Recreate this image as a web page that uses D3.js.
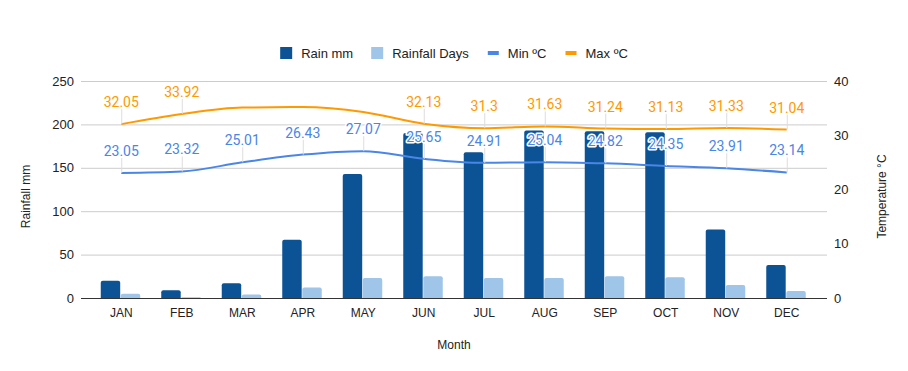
<!DOCTYPE html>
<html>
<head>
<meta charset="utf-8">
<script src="https://cdn.jsdelivr.net/npm/d3@7/dist/d3.min.js"></script>
<style>
  html, body { margin: 0; padding: 0; background: #fff; }
  svg { display: block; font-family: "Liberation Sans", Arial, sans-serif; }
</style>
</head>
<body>
<svg id="chart" width="908" height="371"></svg>
<script>
// ---- data ----
const months = ["JAN", "FEB", "MAR", "APR", "MAY", "JUN", "JUL", "AUG", "SEP", "OCT", "NOV", "DEC"];
const rainMm = [20, 9, 17, 67, 143, 190, 168, 193, 192, 191, 79, 38];
const rainDays = [5, 1, 4, 12, 23, 25, 23, 23, 25, 24, 15, 8];
const minTemp = [23.05, 23.32, 25.01, 26.43, 27.07, 25.65, 24.91, 25.04, 24.82, 24.35, 23.91, 23.14];
const maxTemp = [32.05, 33.92, 35.1, 35.2, 34.3, 32.13, 31.3, 31.63, 31.24, 31.13, 31.33, 31.04];
// max labels that the original chart leaves out (they would run into the top edge)
const hiddenMaxLabels = ["MAR", "APR", "MAY"];
const leftTicks = [0, 50, 100, 150, 200, 250];
const rightTicks = [0, 10, 20, 30, 40];

const colors = { rain: "#0b5394", days: "#9fc5e8", min: "#4a86e8", max: "#ff9900" };

const svg = d3.select("#chart");
const plot = { left: 81, right: 827, top: 81, bottom: 298 };

const x = d3.scaleBand().domain(months).range([91, 817]);
const xInner = d3.scaleBand().domain(["rain", "days"]).range([-20.5, 19]).paddingInner(0.03);
const yL = d3.scaleLinear().domain([0, 250]).range([plot.bottom, plot.top]);
const yR = d3.scaleLinear().domain([0, 40]).range([plot.bottom, plot.top]);
const cx = m => x(m) + x.bandwidth() / 2;

// gridlines
svg.append("g")
  .attr("transform", `translate(${plot.left},0)`)
  .call(d3.axisLeft(yL).tickValues(leftTicks).tickSize(-(plot.right - plot.left)).tickFormat(""))
  .call(g => g.select(".domain").remove())
  .call(g => g.selectAll("line").attr("stroke", "#cccccc"));

// left tick labels
svg.append("g")
  .attr("transform", `translate(${plot.left},0)`)
  .call(d3.axisLeft(yL).tickValues(leftTicks).tickSize(0).tickPadding(7))
  .call(g => g.select(".domain").remove())
  .call(g => g.selectAll("text").attr("font-size", 13).attr("fill", "#222").attr("font-family", "Liberation Sans, Arial, sans-serif"));

// right tick labels
svg.append("g")
  .attr("transform", `translate(${plot.right},0)`)
  .call(d3.axisRight(yR).tickValues(rightTicks).tickSize(0).tickPadding(7))
  .call(g => g.select(".domain").remove())
  .call(g => g.selectAll("text").attr("font-size", 13).attr("fill", "#222").attr("font-family", "Liberation Sans, Arial, sans-serif"));

// bars with rounded tops
function barPath(x0, w, yTop, yBot) {
  const r = Math.min(2, (yBot - yTop), w / 2);
  return `M${x0},${yBot}V${yTop + r}Q${x0},${yTop} ${x0 + r},${yTop}H${x0 + w - r}Q${x0 + w},${yTop} ${x0 + w},${yTop + r}V${yBot}Z`;
}
const groups = svg.append("g").selectAll("g").data(months).join("g")
  .attr("transform", m => `translate(${cx(m)},0)`);
groups.append("path")
  .attr("fill", colors.rain)
  .attr("d", (m, i) => barPath(xInner("rain"), xInner.bandwidth(), yL(rainMm[i]), yL(0)));
groups.append("path")
  .attr("fill", colors.days)
  .attr("d", (m, i) => barPath(xInner("days"), xInner.bandwidth(), yL(rainDays[i]), yL(0)));

// baseline
svg.append("line")
  .attr("x1", plot.left).attr("x2", plot.right)
  .attr("y1", plot.bottom + 0.5).attr("y2", plot.bottom + 0.5)
  .attr("stroke", "#333").attr("stroke-width", 1);

// x axis labels
svg.append("g")
  .attr("transform", `translate(0,${plot.bottom})`)
  .call(d3.axisBottom(x).tickSize(0).tickPadding(10))
  .call(g => g.select(".domain").remove())
  .call(g => g.selectAll("text").attr("font-size", 12).attr("fill", "#222").attr("font-family", "Liberation Sans, Arial, sans-serif"));

// temperature lines
const line = d3.line().x((d, i) => cx(months[i])).y(d => yR(d)).curve(d3.curveMonotoneX);
svg.append("path").datum(minTemp).attr("fill", "none").attr("stroke", colors.min).attr("stroke-width", 2).attr("d", line);
svg.append("path").datum(maxTemp).attr("fill", "none").attr("stroke", colors.max).attr("stroke-width", 2).attr("d", line);

// annotations with stems
function annotate(values, color, hidden) {
  const g = svg.append("g");
  values.forEach((v, i) => {
    if (hidden.includes(months[i])) return;
    const px = cx(months[i]);
    const py = yR(v);
    g.append("line")
      .attr("x1", px + 0.5).attr("x2", px + 0.5)
      .attr("y1", py).attr("y2", py - 15)
      .attr("stroke", "#dddddd").attr("stroke-width", 1);
    g.append("text")
      .attr("x", px).attr("y", py - 17)
      .attr("text-anchor", "middle")
      .attr("font-family", "Roboto, sans-serif")
      .attr("font-size", 14)
      .attr("fill", color)
      .attr("stroke", "#fff").attr("stroke-width", 3).attr("stroke-linejoin", "round")
      .attr("paint-order", "stroke")
      .text(String(v));
  });
}
annotate(minTemp, colors.min, []);
annotate(maxTemp, colors.max, hiddenMaxLabels);

// axis titles
svg.append("text")
  .attr("transform", `translate(30,${(plot.top + plot.bottom) / 2 + 7}) rotate(-90)`)
  .attr("text-anchor", "middle").attr("font-size", 12).attr("fill", "#222")
  .text("Rainfall mm");
svg.append("text")
  .attr("transform", `translate(886,${(plot.top + plot.bottom) / 2 + 7}) rotate(-90)`)
  .attr("text-anchor", "middle").attr("font-size", 12).attr("fill", "#222")
  .text("Temperature °C");
svg.append("text")
  .attr("x", 454).attr("y", 349)
  .attr("text-anchor", "middle").attr("font-size", 12).attr("fill", "#222")
  .text("Month");

// legend
const legendItems = [
  { label: "Rain mm", color: colors.rain, type: "box" },
  { label: "Rainfall Days", color: colors.days, type: "box" },
  { label: "Min ºC", color: colors.min, type: "line" },
  { label: "Max ºC", color: colors.max, type: "line" }
];
const legend = svg.append("g");
const itemGap = 18;
let lx = 0;
legendItems.forEach(item => {
  const g = legend.append("g").attr("transform", `translate(${lx},0)`);
  if (item.type === "box") {
    g.append("rect").attr("x", 0).attr("y", 47).attr("width", 12).attr("height", 12).attr("fill", item.color);
  } else {
    g.append("rect").attr("x", 1).attr("y", 51).attr("width", 11).attr("height", 4).attr("fill", item.color);
  }
  const t = g.append("text").attr("x", 21).attr("y", 58)
    .attr("font-size", 13).attr("fill", "#222").text(item.label);
  lx += 21 + t.node().getComputedTextLength() + itemGap;
});
const legendWidth = lx - itemGap;
legend.attr("transform", `translate(${454 - legendWidth / 2},0)`);
</script>
</body>
</html>
